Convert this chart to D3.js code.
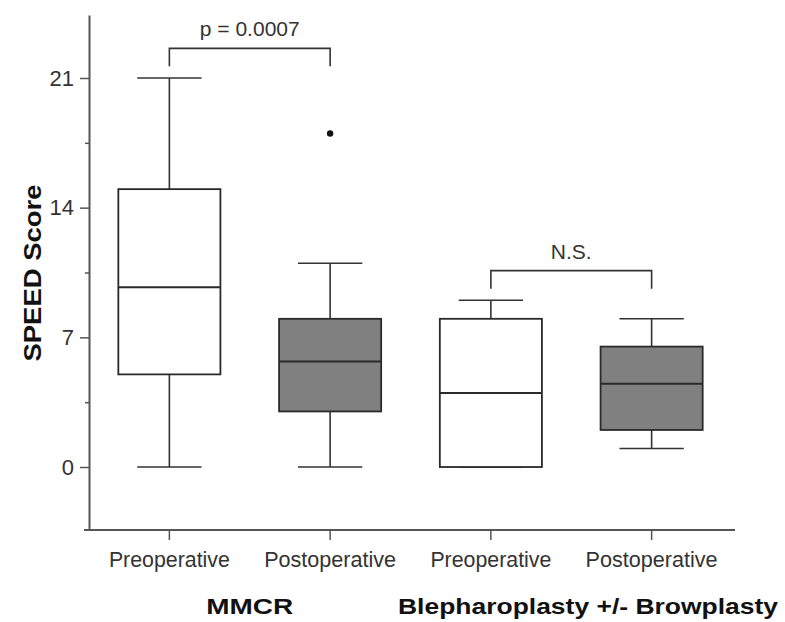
<!DOCTYPE html>
<html>
<head>
<meta charset="utf-8">
<script src="https://cdn.jsdelivr.net/npm/d3@7"></script>
<style>
  body { margin: 0; background: #fff; }
  svg text { font-family: "Liberation Sans", Arial, sans-serif; }
</style>
</head>
<body>
<div id="chart"></div>
<script>
// box plot data (SPEED score)
var groups = ["Preoperative", "Postoperative", "Preoperative", "Postoperative"];
var whiskerLow = [0, 0, 0, 1];
var q1 = [5, 3, 0, 2];
var median = [9.7, 5.7, 4, 4.5];
var q3 = [15, 8, 8, 6.5];
var whiskerHigh = [21, 11, 9, 8];
var boxFill = ["#ffffff", "#808080", "#ffffff", "#808080"];
var outliers = [{ group: 1, value: 18 }];
var yTicks = [0, 7, 14, 21];
var yMinorTicks = [3.5, 10.5, 17.5];
var categories = ["MMCR", "Blepharoplasty +/- Browplasty"];
var comparisons = [{ a: 0, b: 1, label: "p = 0.0007", level: 22.6 }, { a: 2, b: 3, label: "N.S.", level: 10.6 }];

function renderChart() {
    var width = 785, height = 622;
    var svg = d3.select("#chart").append("svg")
        .attr("width", width)
        .attr("height", height);

    var x = d3.scaleBand()
        .domain(d3.range(groups.length))
        .range([89, 732]);

    var y = d3.scaleLinear()
        .domain([-3.4, 24.4])
        .range([530, 15]);

    var boxW = x.bandwidth() * 0.635;
    var capW = x.bandwidth() * 0.4;
    var cx = i => x(i) + x.bandwidth() / 2;

    // y axis
    var yAxis = svg.append("g")
        .attr("transform", "translate(89,0)")
        .call(d3.axisLeft(y).tickValues(yTicks).tickSize(9).tickSizeOuter(0).tickPadding(6));
    yAxis.selectAll("text").attr("font-size", 22).attr("fill", "#333").attr("font-family", null);
    yAxis.selectAll("line").attr("stroke", "#555").attr("stroke-width", 1.5);
    yAxis.select(".domain").attr("stroke", "#555").attr("stroke-width", 2);

    svg.append("g")
        .attr("transform", "translate(89,0)")
        .call(d3.axisLeft(y).tickValues(yMinorTicks).tickSize(4).tickFormat(""))
        .call(g => g.select(".domain").remove())
        .selectAll("line").attr("stroke", "#555").attr("stroke-width", 1.5);

    // x axis
    var xAxis = svg.append("g")
        .attr("transform", "translate(0,530)")
        .call(d3.axisBottom(x).tickFormat(i => groups[i]).tickSize(10).tickSizeOuter(0).tickPadding(11));
    xAxis.select(".domain").attr("d", "M84,0H735").attr("stroke", "#555").attr("stroke-width", 2);
    xAxis.selectAll("line").attr("stroke", "#555").attr("stroke-width", 1.5);
    xAxis.selectAll("text").attr("font-size", 22).attr("fill", "#333").attr("font-family", null)
        .attr("textLength", i => i % 2 === 0 ? 121 : 132).attr("lengthAdjust", "spacingAndGlyphs");

    // whiskers
    var bx = svg.append("g").selectAll("g")
        .data(groups.map((g, i) => i))
        .join("g");

    bx.append("line")
        .attr("x1", cx).attr("x2", cx)
        .attr("y1", i => y(whiskerLow[i])).attr("y2", i => y(whiskerHigh[i]))
        .attr("stroke", "#333").attr("stroke-width", 1.6);
    bx.append("line")
        .attr("x1", i => cx(i) - capW / 2).attr("x2", i => cx(i) + capW / 2)
        .attr("y1", i => y(whiskerHigh[i])).attr("y2", i => y(whiskerHigh[i]))
        .attr("stroke", "#333").attr("stroke-width", 1.6);
    bx.append("line")
        .attr("x1", i => cx(i) - capW / 2).attr("x2", i => cx(i) + capW / 2)
        .attr("y1", i => y(whiskerLow[i])).attr("y2", i => y(whiskerLow[i]))
        .attr("stroke", "#333").attr("stroke-width", 1.6);

    // boxes
    bx.append("rect")
        .attr("x", i => cx(i) - boxW / 2)
        .attr("width", boxW)
        .attr("y", i => y(q3[i]))
        .attr("height", i => y(q1[i]) - y(q3[i]))
        .attr("fill", i => boxFill[i])
        .attr("stroke", "#2a2a2a").attr("stroke-width", 1.8);
    bx.append("line")
        .attr("x1", i => cx(i) - boxW / 2).attr("x2", i => cx(i) + boxW / 2)
        .attr("y1", i => y(median[i])).attr("y2", i => y(median[i]))
        .attr("stroke", "#2a2a2a").attr("stroke-width", 2);

    // outliers
    svg.append("g").selectAll("circle")
        .data(outliers)
        .join("circle")
        .attr("cx", d => cx(d.group))
        .attr("cy", d => y(d.value))
        .attr("r", 3.2)
        .attr("fill", "#111");

    // significance brackets
    var br = svg.append("g").selectAll("g")
        .data(comparisons)
        .join("g");
    br.append("path")
        .attr("d", d => {
            var top = y(d.level), drop = top + 18;
            return "M" + cx(d.a) + "," + drop + "V" + top + "H" + cx(d.b) + "V" + drop;
        })
        .attr("fill", "none").attr("stroke", "#333").attr("stroke-width", 1.6);
    br.append("text")
        .attr("x", d => (cx(d.a) + cx(d.b)) / 2)
        .attr("y", d => y(d.level) - 12)
        .attr("text-anchor", "middle")
        .attr("font-size", 21)
        .attr("fill", "#333")
        .text(d => d.label);

    // axis title
    svg.append("text")
        .attr("transform", "translate(41,273) rotate(-90)")
        .attr("text-anchor", "middle")
        .attr("font-size", 23)
        .attr("font-weight", "bold")
        .attr("fill", "#111")
        .attr("textLength", 177)
        .attr("lengthAdjust", "spacingAndGlyphs")
        .text("SPEED Score");

    // category labels under each pair
    var catLen = [87, 380];
    svg.append("g").selectAll("text")
        .data(categories)
        .join("text")
        .attr("x", (d, k) => k === 0 ? (cx(0) + cx(1)) / 2 : 588)
        .attr("y", 614)
        .attr("text-anchor", "middle")
        .attr("font-size", 22)
        .attr("font-weight", "bold")
        .attr("fill", "#111")
        .attr("textLength", (d, k) => catLen[k])
        .attr("lengthAdjust", "spacingAndGlyphs")
        .text(d => d);
}

document.addEventListener("DOMContentLoaded", function () {
    renderChart();
});
</script>
</body>
</html>
